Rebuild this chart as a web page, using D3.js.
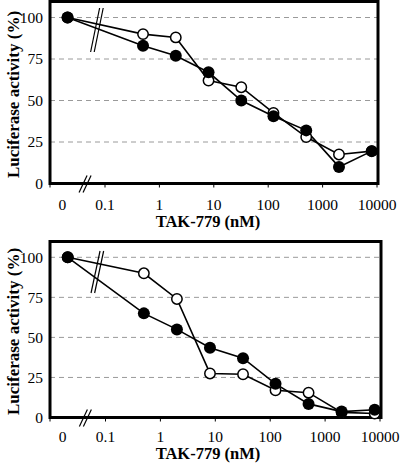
<!DOCTYPE html>
<html><head><meta charset="utf-8">
<script src="https://cdn.jsdelivr.net/npm/d3@7"></script>
<style>body{margin:0;background:#fff}svg{display:block}text{font-family:"Liberation Serif","Times New Roman","DejaVu Serif",serif}</style>
</head><body>
<script>
// ---- data ----
const concentrations = [0, 0.5, 2, 8, 32, 125, 500, 2000, 8000]; // nM (0 = no drug)
const xTickValues = [0.1, 1, 10, 100, 1000, 10000];
const xTickLabels = ["0.1", "1", "10", "100", "1000", "10000"];
const yTickValues = [0, 25, 50, 75, 100];
const topFilled = [100, 83, 77, 67, 50, 40.5, 32, 10, 19.5];
const topOpen   = [100, 90, 88, 62, 58, 42.5, 28, 17.5, 19.5];
const botFilled = [100, 65, 55, 43.5, 37, 21, 8.5, 3.7, 4.8];
const botOpen   = [100, 90, 74, 27.5, 27, 17, 15.5, 3.2, 2.5];
const xTitle = "TAK-779 (nM)";
const yTitle = "Luciferase activity (%)";

const W = 400, H = 463;
const svg = d3.select("body").append("svg").attr("width", W).attr("height", H);

function panel(cfg, filled, open) {
  const g = svg.append("g");
  const x = d3.scaleLog().domain([0.1, 10000]).range([cfg.x01, cfg.x10k]);
  const y = d3.scaleLinear().domain([0, 100]).range([cfg.y0, cfg.y100]);
  const zeroPos = 0.0205; // plotting position of the "0" dose on the log axis
  const px = c => x(c === 0 ? zeroPos : c);
  const L = cfg.left, R = cfg.right, T = cfg.top, B = cfg.y0;

  // gridlines
  g.selectAll(".grid").data(yTickValues.filter(v => v > 0 && y(v) > T + 3)).join("line")
    .attr("x1", L).attr("x2", R).attr("y1", d => y(d)).attr("y2", d => y(d))
    .attr("stroke", "#9a9a9a").attr("stroke-width", 1).attr("stroke-dasharray", "5,4");

  // y axis labels
  g.selectAll(".yl").data(yTickValues).join("text")
    .attr("x", L - 7).attr("y", d => y(d)).attr("dy", "0.35em")
    .attr("text-anchor", "end").attr("font-size", 15.5).text(d => d);

  // x ticks
  const tickX = [L].concat(xTickValues.map(v => x(v)));
  g.selectAll(".xt").data(tickX).join("line")
    .attr("x1", d => d).attr("x2", d => d).attr("y1", B).attr("y2", B + 4)
    .attr("stroke", "#000").attr("stroke-width", 1);
  g.selectAll(".xl").data(xTickValues).join("text")
    .attr("x", d => x(d)).attr("y", cfg.tickLabelY).attr("dy", "0.35em")
    .attr("text-anchor", "middle").attr("font-size", 15.5)
    .text((d, i) => xTickLabels[i]);
  g.append("text").attr("x", x(0.0165)).attr("y", cfg.tickLabelY).attr("dy", "0.35em")
    .attr("text-anchor", "middle").attr("font-size", 15.5).text("0");

  // titles
  g.append("text").attr("x", 208).attr("y", cfg.titleY).attr("dy", "0.35em")
    .attr("text-anchor", "middle").attr("font-size", 16.5)
    .attr("font-weight", "bold").text(xTitle);
  g.append("text").attr("transform", `translate(13,${(T + B) / 2 + 2}) rotate(-90)`)
    .attr("dy", "0.35em").attr("text-anchor", "middle")
    .attr("font-size", 17).attr("font-weight", "bold").text(yTitle);

  // frame
  g.append("rect").attr("x", L).attr("y", T).attr("width", R - L).attr("height", B - T)
    .attr("fill", "none").attr("stroke", "#000").attr("stroke-width", 3);

  // axis break
  const ab = x(0.043);
  [-2, 2].forEach(o => g.append("line")
    .attr("x1", ab + o + 4).attr("y1", B - 8).attr("x2", ab + o - 4).attr("y2", B + 9)
    .attr("stroke", "#000").attr("stroke-width", 1.2));

  // lines
  const line = d3.line().x((d, i) => px(concentrations[i])).y(d => y(d));
  [filled, open].forEach(s => g.append("path").attr("d", line(s))
    .attr("fill", "none").attr("stroke", "#000").attr("stroke-width", 1.6));

  // line break marks
  const lb = x(0.071);
  [-1.8, 1.8].forEach(o => g.append("line")
    .attr("x1", lb + o + 4.5).attr("y1", cfg.brkTop).attr("x2", lb + o - 4.5).attr("y2", cfg.brkBot)
    .attr("stroke", "#000").attr("stroke-width", 1.2));

  // markers
  g.selectAll(".op").data(open).join("circle")
    .attr("cx", (d, i) => px(concentrations[i])).attr("cy", d => y(d)).attr("r", 5.2)
    .attr("fill", "#fff").attr("stroke", "#000").attr("stroke-width", 1.5);
  g.selectAll(".fp").data(filled).join("circle")
    .attr("cx", (d, i) => px(concentrations[i])).attr("cy", d => y(d)).attr("r", 6)
    .attr("fill", "#000");
}

panel({left: 50, right: 378, top: 1.5, y0: 183.5, y100: 17.5, x01: 105, x10k: 377,
       tickLabelY: 205, titleY: 221, brkTop: 8, brkBot: 52}, topFilled, topOpen);
panel({left: 50, right: 381, top: 241.5, y0: 417.5, y100: 257.3, x01: 105.5, x10k: 380,
       tickLabelY: 437, titleY: 453, brkTop: 251, brkBot: 293}, botFilled, botOpen);
</script>
</body></html>
